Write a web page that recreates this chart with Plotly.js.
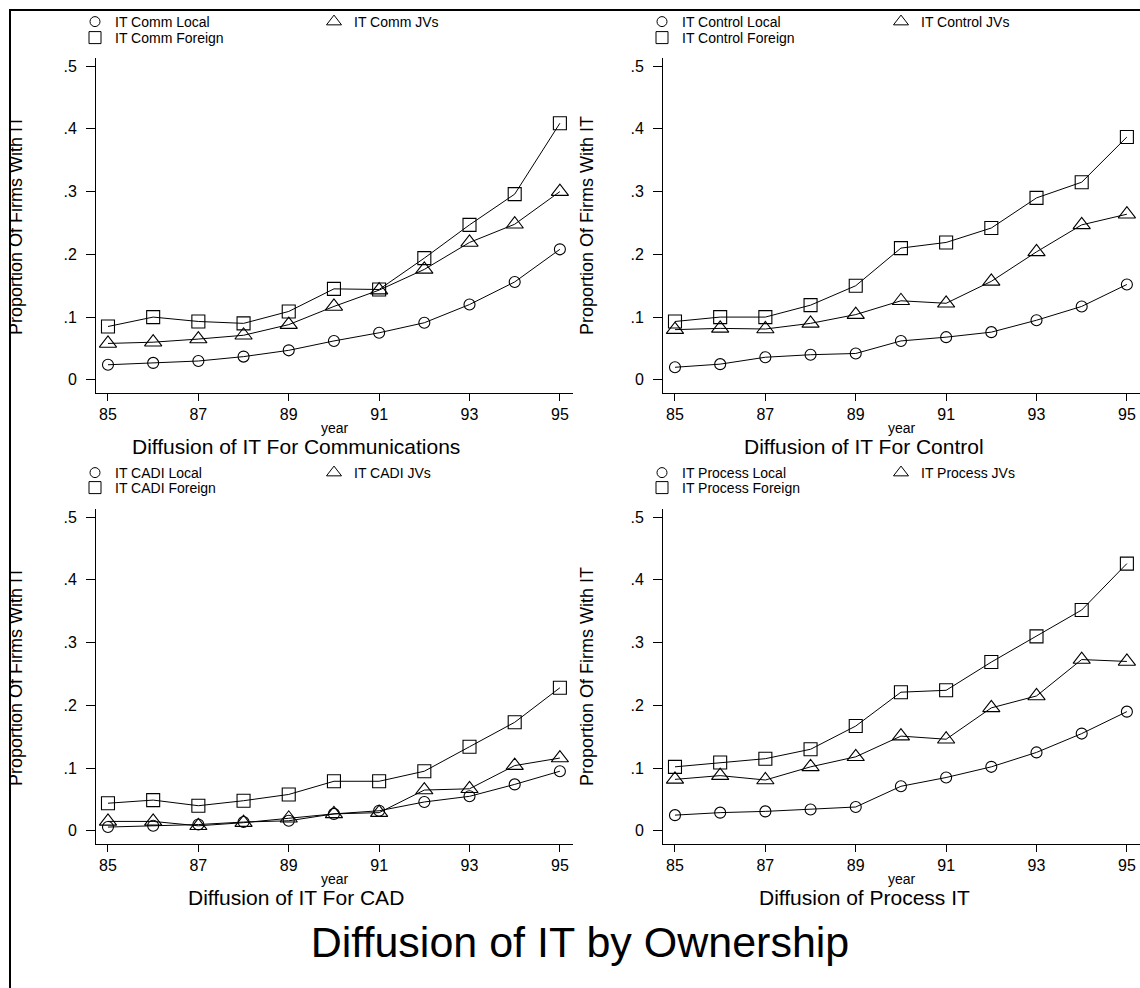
<!DOCTYPE html>
<html>
<head>
<meta charset="utf-8">
<script src="https://cdn.plot.ly/plotly-3.0.1.min.js"></script>
<style>
html, body { margin: 0; padding: 0; background: #fff; }
#wrap { position: relative; width: 1140px; height: 988px; overflow: hidden; }
#chart { position: absolute; left: 0; top: 0; width: 1140px; height: 988px; }
#frameL { position: absolute; left: 0; top: 9px; width: 9px; height: 979px; background: #fff; border-right: 2px solid #000; }
#frameT { position: absolute; left: 9px; top: 0; width: 1131px; height: 9px; background: #fff; border-bottom: 2px solid #000; }
</style>
</head>
<body>
<div id="wrap">
  <div id="chart"></div>
  <div id="frameL"></div>
  <div id="frameT"></div>
</div>
<script>
// ---------------- data ----------------
const years = [85, 86, 87, 88, 89, 90, 91, 92, 93, 94, 95];
const xTickVals = [85, 87, 89, 91, 93, 95];
const yTickVals = [0, 0.1, 0.2, 0.3, 0.4, 0.5];
const yTickText = ['0', '.1', '.2', '.3', '.4', '.5'];

const commLocal      = [0.024, 0.027, 0.030, 0.037, 0.047, 0.062, 0.075, 0.091, 0.120, 0.156, 0.208];
const commJVs        = [0.058, 0.060, 0.065, 0.071, 0.088, 0.117, 0.143, 0.176, 0.219, 0.248, 0.300];
const commForeign    = [0.085, 0.100, 0.093, 0.090, 0.109, 0.145, 0.144, 0.194, 0.247, 0.296, 0.409];

const controlLocal   = [0.020, 0.025, 0.036, 0.040, 0.042, 0.062, 0.068, 0.076, 0.095, 0.117, 0.152];
const controlJVs     = [0.080, 0.082, 0.081, 0.090, 0.104, 0.126, 0.122, 0.157, 0.204, 0.247, 0.264];
const controlForeign = [0.093, 0.100, 0.100, 0.119, 0.150, 0.210, 0.219, 0.242, 0.290, 0.315, 0.387];

const cadLocal       = [0.006, 0.008, 0.010, 0.014, 0.016, 0.027, 0.032, 0.046, 0.055, 0.074, 0.095];
const cadJVs         = [0.015, 0.015, 0.008, 0.013, 0.020, 0.027, 0.029, 0.065, 0.067, 0.104, 0.116];
const cadForeign     = [0.044, 0.049, 0.040, 0.048, 0.058, 0.079, 0.079, 0.095, 0.134, 0.173, 0.228];

const processLocal   = [0.025, 0.029, 0.031, 0.034, 0.038, 0.071, 0.085, 0.102, 0.125, 0.155, 0.190];
const processJVs     = [0.082, 0.088, 0.081, 0.102, 0.118, 0.151, 0.146, 0.196, 0.215, 0.273, 0.270];
const processForeign = [0.102, 0.109, 0.115, 0.130, 0.167, 0.221, 0.224, 0.269, 0.310, 0.352, 0.426];

const panelTitles = ['Diffusion of IT For Communications', 'Diffusion of IT For Control',
                     'Diffusion of IT For CAD', 'Diffusion of Process IT'];
const seriesPrefixes = ['IT Comm', 'IT Control', 'IT CADI', 'IT Process'];
const ownership = ['Local', 'JVs', 'Foreign'];
const yTitle = 'Proportion Of Firms With IT';
const xTitle = 'year';
const mainTitle = 'Diffusion of IT by Ownership';

const panelData = [
  [commLocal, commJVs, commForeign],
  [controlLocal, controlJVs, controlForeign],
  [cadLocal, cadJVs, cadForeign],
  [processLocal, processJVs, processForeign]
];

// ---------------- layout (pixels) ----------------
const W = 1140, H = 988;
const FONT = 'Liberation Sans, Arial, sans-serif';
const boxes = [
  {x0: 96,  x1: 573,  y0: 58,  y1: 393},
  {x0: 663, x1: 1140, y0: 58,  y1: 393},
  {x0: 96,  x1: 573,  y0: 509, y1: 844},
  {x0: 663, x1: 1140, y0: 509, y1: 844}
];
const subtitleX = [296, 864, 296, 864];
const yTitleStandoff = [36, 32, 36, 32];
const symbols = ['circle-open', 'triangle-up-open', 'square-open'];
const sizes = [11, 15, 13];
const legendSizes = [10, 13, 12];
const legendCols = [[75, 314], [642, 881], [75, 314], [642, 881]];
const legendRows = [[22, 38], [22, 38], [473, 488], [473, 488]];

const traces = [];
const layout = {
  width: W, height: H,
  margin: {l: 0, r: 0, t: 0, b: 0},
  paper_bgcolor: '#fff', plot_bgcolor: 'rgba(0,0,0,0)',
  showlegend: true,
  font: {family: FONT, color: '#000'},
  title: {
    text: mainTitle, font: {family: FONT, size: 43, color: '#000'},
    xref: 'paper', yref: 'paper', x: 580 / W, xanchor: 'center', y: 1 - 942 / H, yanchor: 'middle'
  },
  annotations: []
};

for (let p = 0; p < 4; p++) {
  const b = boxes[p];
  const sfx = p === 0 ? '' : String(p + 1);
  const xa = 'x' + sfx, ya = 'y' + sfx;
  layout['xaxis' + sfx] = {
    domain: [b.x0 / W, b.x1 / W], range: [84.735, 95.29], anchor: ya,
    showgrid: false, zeroline: false, showline: true, linecolor: '#000', linewidth: 1,
    ticks: 'outside', ticklen: 7, tickwidth: 1, tickcolor: '#000',
    tickvals: xTickVals, tickfont: {family: FONT, size: 16, color: '#000'},
    title: {text: xTitle, font: {family: FONT, size: 14, color: '#000'}, standoff: 0},
    fixedrange: true
  };
  layout['yaxis' + sfx] = {
    domain: [1 - b.y1 / H, 1 - b.y0 / H], range: [-0.021, 0.513], anchor: xa,
    showgrid: false, zeroline: false, showline: true, linecolor: '#000', linewidth: 1,
    ticks: 'outside', ticklen: 9, tickwidth: 1, tickcolor: '#000',
    tickvals: yTickVals, ticktext: yTickText, ticklabelstandoff: 6,
    tickfont: {family: FONT, size: 16, color: '#000'},
    title: {text: yTitle, font: {family: FONT, size: 18, color: '#000'}, standoff: yTitleStandoff[p]},
    fixedrange: true
  };
  layout.annotations.push({
    text: panelTitles[p], xref: 'paper', yref: 'paper',
    x: subtitleX[p] / W, y: 1 - (b.y1 + 53) / H, xanchor: 'center', yanchor: 'middle',
    showarrow: false, font: {family: FONT, size: 21, color: '#000'}
  });
  for (let s = 0; s < 3; s++) {
    traces.push({
      type: 'scatter', mode: 'lines+markers', x: years, y: panelData[p][s],
      xaxis: xa, yaxis: ya, showlegend: false,
      name: seriesPrefixes[p] + ' ' + ownership[s],
      line: {color: '#000', width: 1},
      marker: {symbol: symbols[s], size: sizes[s], color: '#000', line: {width: 1.1, color: '#000'}},
      cliponaxis: false
    });
    const lgIdx = p * 3 + s;
    const lgKey = lgIdx === 0 ? 'legend' : 'legend' + (lgIdx + 1);
    traces.push({
      type: 'scatter', mode: 'markers', x: [null], y: [null],
      xaxis: xa, yaxis: ya, legend: lgKey, showlegend: true,
      name: seriesPrefixes[p] + ' ' + ownership[s], hoverinfo: 'skip',
      marker: {symbol: symbols[s], size: legendSizes[s], color: '#000', line: {width: 1, color: '#000'}}
    });
    const col = s === 1 ? 1 : 0;
    const row = s === 2 ? 1 : 0;
    layout[lgKey] = {
      x: legendCols[p][col] / W, xanchor: 'left', xref: 'paper',
      y: 1 - legendRows[p][row] / H, yanchor: 'middle', yref: 'paper',
      bgcolor: 'rgba(0,0,0,0)', borderwidth: 0,
      font: {family: FONT, size: 14, color: '#000'},
      itemclick: false, itemdoubleclick: false
    };
  }
}

Plotly.newPlot('chart', traces, layout, {staticPlot: true, displayModeBar: false});
</script>
</body>
</html>
